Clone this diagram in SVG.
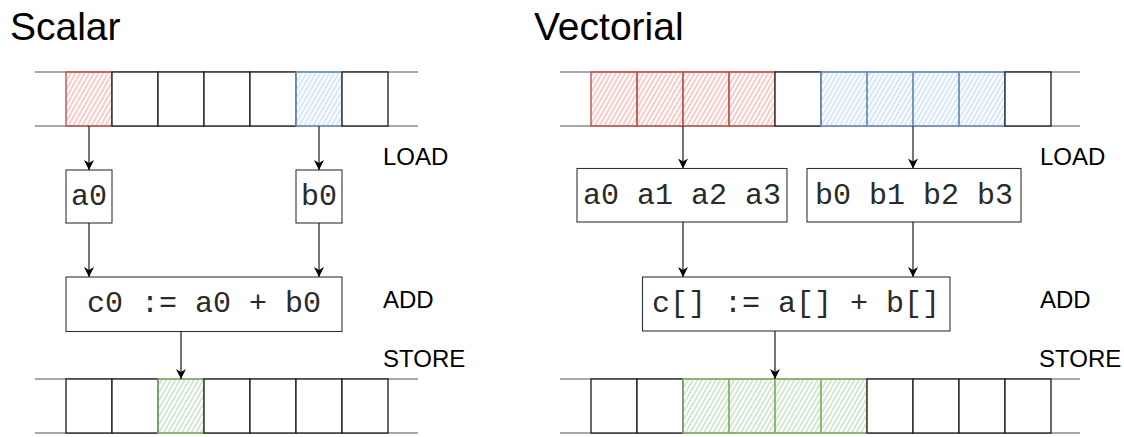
<svg xmlns="http://www.w3.org/2000/svg" width="1124" height="437" viewBox="0 0 1124 437">
<defs>
<pattern id="hRed" patternUnits="userSpaceOnUse" width="4" height="10" patternTransform="rotate(30)"><line x1="2" y1="0" x2="2" y2="10" stroke="#f4b7b5" stroke-width="1.4"/></pattern>
<pattern id="hBlue" patternUnits="userSpaceOnUse" width="4" height="10" patternTransform="rotate(30)"><line x1="2" y1="0" x2="2" y2="10" stroke="#c9ddf8" stroke-width="1.4"/></pattern>
<pattern id="hGreen" patternUnits="userSpaceOnUse" width="4" height="10" patternTransform="rotate(30)"><line x1="2" y1="0" x2="2" y2="10" stroke="#c0dcbe" stroke-width="1.4"/></pattern>
<marker id="arr" viewBox="0 0 10 12" refX="10" refY="6" markerWidth="11" markerHeight="12" markerUnits="userSpaceOnUse" orient="auto"><path d="M0,1 L10,6 L0,11 L3,6 z" fill="#000"/></marker>
<style>
.rail{stroke:#8c8c8c;stroke-width:1.5}
.cell{fill:#fff;stroke:#1a1a1a;stroke-width:1.3}
.red{fill:url(#hRed);stroke:#b85450;stroke-width:1.4}
.blue{fill:url(#hBlue);stroke:#6c8ebf;stroke-width:1.4}
.green{fill:url(#hGreen);stroke:#82b366;stroke-width:1.4}
.box{fill:#fff;stroke:#333;stroke-width:1.1}
.mono{font-family:"Liberation Mono","Courier New",monospace;font-size:30px;fill:#2a2a2a;text-anchor:middle}
.lbl{font-family:"Liberation Sans",Arial,sans-serif;font-size:24px;fill:#000}
.title{font-family:"Liberation Sans",Arial,sans-serif;font-size:39px;fill:#000}
.conn{stroke:#1a1a1a;stroke-width:1.2;fill:none;marker-end:url(#arr)}
</style>
</defs>
<rect width="1124" height="437" fill="#fff"/>

<g id="title-scalar"><text class="title" x="10" y="40">Scalar</text></g>
<g id="title-vectorial"><text class="title" x="534" y="40">Vectorial</text></g>

<g id="scalar-mem-top">
<line class="rail" x1="35" y1="72" x2="418" y2="72"/>
<line class="rail" x1="35" y1="126" x2="418" y2="126"/>
<rect class="red" x="66" y="72" width="46" height="54"/>
<rect class="cell" x="112" y="72" width="46" height="54"/>
<rect class="cell" x="158" y="72" width="46" height="54"/>
<rect class="cell" x="204" y="72" width="46" height="54"/>
<rect class="cell" x="250" y="72" width="46" height="54"/>
<rect class="blue" x="296" y="72" width="46" height="54"/>
<rect class="cell" x="342" y="72" width="46" height="54"/>
</g>

<g id="scalar-mem-bottom">
<line class="rail" x1="35" y1="379" x2="418" y2="379"/>
<line class="rail" x1="35" y1="433" x2="418" y2="433"/>
<rect class="cell" x="66" y="379" width="46" height="54"/>
<rect class="cell" x="112" y="379" width="46" height="54"/>
<rect class="green" x="158" y="379" width="46" height="54"/>
<rect class="cell" x="204" y="379" width="46" height="54"/>
<rect class="cell" x="250" y="379" width="46" height="54"/>
<rect class="cell" x="296" y="379" width="46" height="54"/>
<rect class="cell" x="342" y="379" width="46" height="54"/>
</g>

<g id="scalar-a0"><rect class="box" x="66" y="170" width="46" height="53"/><text class="mono" x="89" y="205">a0</text></g>
<g id="scalar-b0"><rect class="box" x="296" y="170" width="46" height="53"/><text class="mono" x="319" y="205">b0</text></g>
<g id="scalar-add"><rect class="box" x="66" y="277" width="276" height="54.5"/><text class="mono" x="204" y="312">c0 := a0 + b0</text></g>

<g id="vec-mem-top">
<line class="rail" x1="560" y1="72" x2="1080" y2="72"/>
<line class="rail" x1="560" y1="126" x2="1080" y2="126"/>
<rect class="red" x="591" y="72" width="46" height="54"/>
<rect class="red" x="637" y="72" width="46" height="54"/>
<rect class="red" x="683" y="72" width="46" height="54"/>
<rect class="red" x="729" y="72" width="46" height="54"/>
<rect class="cell" x="775" y="72" width="46" height="54"/>
<rect class="blue" x="821" y="72" width="46" height="54"/>
<rect class="blue" x="867" y="72" width="46" height="54"/>
<rect class="blue" x="913" y="72" width="46" height="54"/>
<rect class="blue" x="959" y="72" width="46" height="54"/>
<rect class="cell" x="1005" y="72" width="46" height="54"/>
</g>

<g id="vec-mem-bottom">
<line class="rail" x1="560" y1="379" x2="1080" y2="379"/>
<line class="rail" x1="560" y1="433" x2="1080" y2="433"/>
<rect class="cell" x="591" y="379" width="46" height="54"/>
<rect class="cell" x="637" y="379" width="46" height="54"/>
<rect class="green" x="683" y="379" width="46" height="54"/>
<rect class="green" x="729" y="379" width="46" height="54"/>
<rect class="green" x="775" y="379" width="46" height="54"/>
<rect class="green" x="821" y="379" width="46" height="54"/>
<rect class="cell" x="867" y="379" width="46" height="54"/>
<rect class="cell" x="913" y="379" width="46" height="54"/>
<rect class="cell" x="959" y="379" width="46" height="54"/>
<rect class="cell" x="1005" y="379" width="46" height="54"/>
</g>

<g id="vec-a"><rect class="box" x="577" y="168.5" width="210" height="53.5"/><text class="mono" x="682" y="204">a0 a1 a2 a3</text></g>
<g id="vec-b"><rect class="box" x="807" y="168.5" width="214" height="53.5"/><text class="mono" x="914" y="204">b0 b1 b2 b3</text></g>
<g id="vec-add"><rect class="box" x="642.5" y="277" width="307.5" height="54"/><text class="mono" x="796" y="312">c[] := a[] + b[]</text></g>

<g id="labels-scalar">
<text class="lbl" x="383" y="165">LOAD</text>
<text class="lbl" x="383" y="308">ADD</text>
<text class="lbl" x="383" y="367">STORE</text>
</g>
<g id="labels-vectorial">
<text class="lbl" x="1040" y="165">LOAD</text>
<text class="lbl" x="1040" y="308">ADD</text>
<text class="lbl" x="1039" y="367">STORE</text>
</g>

<g id="connectors">
<line class="conn" x1="89" y1="126" x2="89" y2="170"/>
<line class="conn" x1="319" y1="126" x2="319" y2="170"/>
<line class="conn" x1="89" y1="223" x2="89" y2="277"/>
<line class="conn" x1="319" y1="223" x2="319" y2="277"/>
<line class="conn" x1="181" y1="331.5" x2="181" y2="379"/>
<line class="conn" x1="683" y1="126" x2="683" y2="168.5"/>
<line class="conn" x1="913" y1="126" x2="913" y2="168.5"/>
<line class="conn" x1="683" y1="222" x2="683" y2="277"/>
<line class="conn" x1="913" y1="222" x2="913" y2="277"/>
<line class="conn" x1="775" y1="331" x2="775" y2="379"/>
</g>
</svg>
